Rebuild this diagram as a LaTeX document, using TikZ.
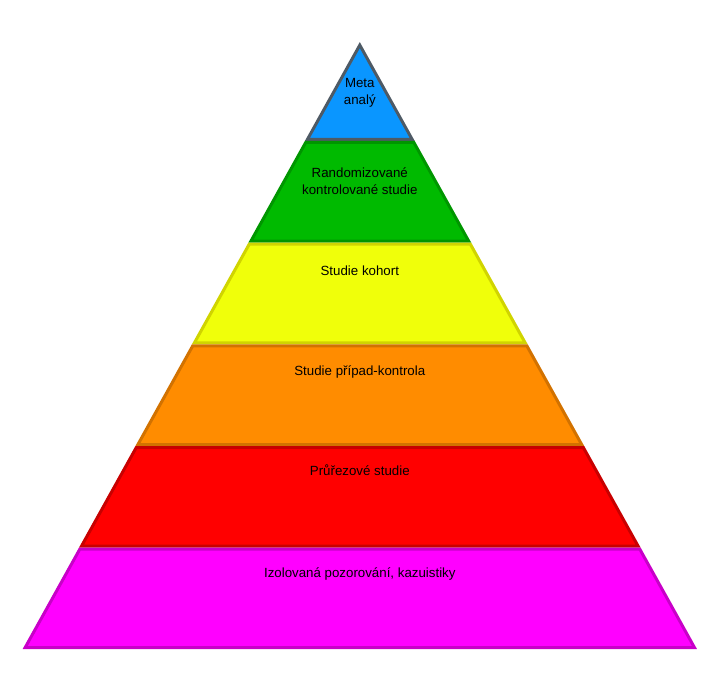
\documentclass[tikz,border=0pt]{standalone}
\usepackage{fontspec}
\setmainfont{Liberation Sans}
\definecolor{fBlue}{HTML}{0A96FF}
\definecolor{sBlue}{HTML}{4E5A65}
\definecolor{fGreen}{HTML}{00BA00}
\definecolor{sGreen}{HTML}{009600}
\definecolor{fYellow}{HTML}{F0FF0A}
\definecolor{sYellow}{HTML}{D0D400}
\definecolor{fOrange}{HTML}{FF8C00}
\definecolor{sOrange}{HTML}{D27200}
\definecolor{fRed}{HTML}{FF0000}
\definecolor{sRed}{HTML}{C80000}
\definecolor{fMag}{HTML}{FF00FF}
\definecolor{sMag}{HTML}{C800C8}
\tikzset{
  layer/.style={line width=3pt, line join=miter},
  lbl/.style={font=\fontsize{13.3}{17}\selectfont, align=center, text=black, inner sep=0pt, anchor=base},
}
% half-width of inset path at y: s*(y-42)-1.72, s=0.5555, centre 359.8
\newcommand{\lyr}[4]{% top, bottom, fill, stroke
  \pgfmathsetmacro{\lyrht}{0.5555*(#1-42)-1.72}%
  \pgfmathsetmacro{\lyrhb}{0.5555*(#2-42)-1.72}%
  \draw[layer, fill=#3, draw=#4] ({359.8-\lyrht},#1) -- ({359.8+\lyrht},#1) -- ({359.8+\lyrhb},#2) -- ({359.8-\lyrhb},#2) -- cycle;
}
\begin{document}
\begin{tikzpicture}[x=1pt,y=-1pt]
\useasboundingbox (0,0) rectangle (727,679);
% top triangle
\pgfmathsetmacro{\tribh}{0.5555*(139.5-42)-1.72}
\draw[layer, fill=fBlue, draw=sBlue] (359.8,45.1) -- ({359.8+\tribh},139.5) -- ({359.8-\tribh},139.5) -- cycle;
\lyr{142.5}{241.2}{fGreen}{sGreen}
\lyr{244.2}{342.8}{fYellow}{sYellow}
\lyr{345.8}{444.5}{fOrange}{sOrange}
\lyr{447.5}{546}{fRed}{sRed}
\lyr{549}{647.5}{fMag}{sMag}
\node[lbl] (meta) at (359.8,105) {Meta\\analý};
\node[lbl] (rct) at (359.8,194) {Randomizované\\kontrolované studie};
\node[lbl] (kohort) at (359.8,275.5) {Studie kohort};
\node[lbl] (pripad) at (359.8,375.5) {Studie případ-kontrola};
\node[lbl] (prurez) at (359.8,475) {Průřezové studie};
\node[lbl] (izol) at (359.8,577.5) {Izolovaná pozorování, kazuistiky};
\end{tikzpicture}
\end{document}
